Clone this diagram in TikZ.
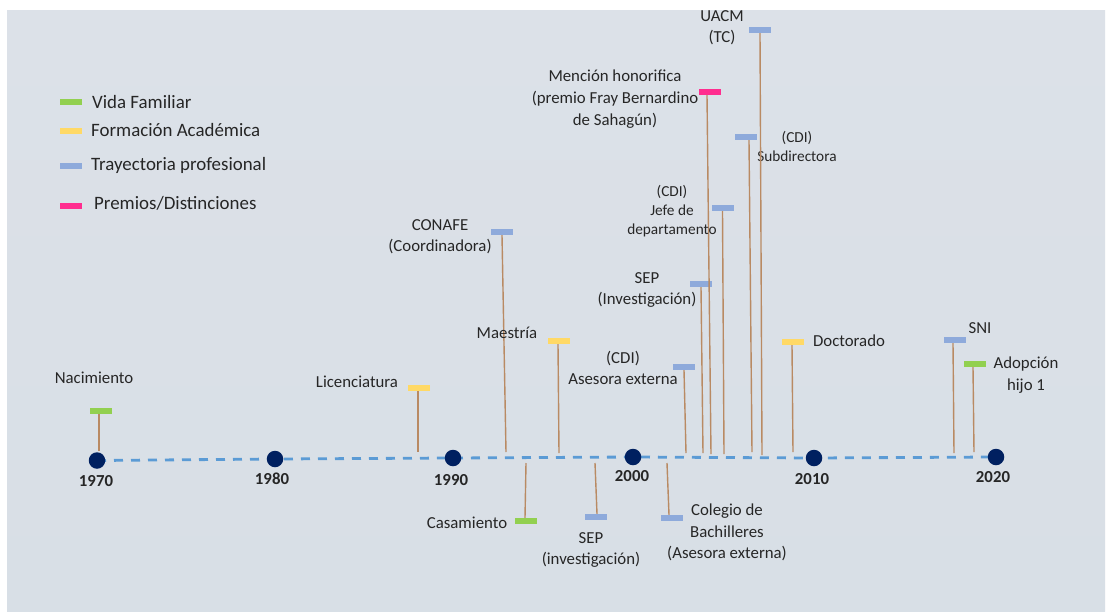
\documentclass[tikz,border=0pt]{standalone}
\usepackage{fontspec}
\setmainfont{Carlito}
\definecolor{bgtop}{HTML}{DCE1E8}
\definecolor{bgmid}{HTML}{E6E9EE}
\definecolor{bgbot}{HTML}{D8DFE6}
\definecolor{famgreen}{HTML}{92D050}
\definecolor{acadyellow}{HTML}{FFD966}
\definecolor{profblue}{HTML}{8EAADB}
\definecolor{prizepink}{HTML}{FF2D8F}
\definecolor{stemc}{HTML}{B98A63}
\definecolor{axisc}{HTML}{5B9BD5}
\definecolor{dotc}{HTML}{002060}
\definecolor{txt}{HTML}{262626}
\tikzset{
  bar/.style={rectangle, minimum width=22pt, minimum height=6pt, inner sep=0pt, draw=none},
  stemline/.style={draw=stemc, line width=1.4pt},
  lbl/.style={text=txt, font=\fontsize{16.8}{21.5}\selectfont, align=center, inner sep=0pt},
  lbls/.style={text=txt, font=\fontsize{15.3}{19}\selectfont, align=center, inner sep=0pt},
  lblm/.style={text=txt, font=\fontsize{16.8}{22}\selectfont, align=center, inner sep=0pt},
  leg/.style={text=txt, font=\fontsize{18.9}{22}\selectfont, anchor=west, inner sep=0pt},
  yr/.style={text=txt, font=\bfseries\fontsize{16.8}{20}\selectfont, inner sep=0pt},
  yeardot/.style={circle, fill=dotc, minimum size=16.5pt, inner sep=0pt, draw=none},
  axisline/.style={draw=axisc, line width=2.8pt, dash pattern=on 9pt off 8pt}
}
\begin{document}
\begin{tikzpicture}[x=1pt, y=-1pt]
\useasboundingbox (0,0) rectangle (1106,611);
\fill[white] (0,0) rectangle (1106,611);
\shade[top color=bgtop, middle color=bgmid, bottom color=bgbot, draw=none] (7,10) rectangle (1105,611);

% legend
\node[bar, fill=famgreen] (lg1) at (70.5,102) {};
\node[leg] (lt1) at (92,102) {Vida Familiar};
\node[bar, fill=acadyellow] (lg2) at (70.5,131) {};
\node[leg] (lt2) at (91,130) {Formación Académica};
\node[bar, fill=profblue] (lg3) at (70.5,166) {};
\node[leg] (lt3) at (91,165) {Trayectoria profesional};
\node[bar, fill=prizepink] (lg4) at (70.5,206) {};
\node[leg] (lt4) at (94,203) {Premios/Distinciones};

% timeline
\coordinate (y1970) at (97,460.5);
\coordinate (y1980) at (275,459);
\coordinate (y1990) at (453,458);
\coordinate (y2000) at (633,457);
\coordinate (y2010) at (814,458);
\coordinate (y2020) at (996,457);
\draw[axisline] (y1970) -- (y1980) -- (y1990) -- (y2000) -- (y2010) -- (y2020);
\node[yeardot] (d1970) at (y1970) {};
\node[yeardot] (d1980) at (y1980) {};
\node[yeardot] (d1990) at (y1990) {};
\node[yeardot] (d2000) at (y2000) {};
\node[yeardot] (d2010) at (y2010) {};
\node[yeardot] (d2020) at (y2020) {};
\node[yr] (l1970) at (96,481) {1970};
\node[yr] (l1980) at (272,479) {1980};
\node[yr] (l1990) at (451,480) {1990};
\node[yr] (l2000) at (632,476) {2000};
\node[yr] (l2010) at (812,479) {2010};
\node[yr] (l2020) at (993,477) {2020};

% stem end points on the timeline
\coordinate (e1) at (99,451);
\coordinate (e2) at (418,452);
\coordinate (e3) at (506,452);
\coordinate (e4) at (559,453);
\coordinate (e5) at (526,463);
\coordinate (e6) at (595,463);
\coordinate (e7) at (686,453);
\coordinate (e8) at (667,463);
\coordinate (e9) at (703,453);
\coordinate (e10) at (711,454);
\coordinate (e11) at (724,454);
\coordinate (e12) at (752,452);
\coordinate (e13) at (762,455);
\coordinate (e14) at (793,452);
\coordinate (e15) at (954,453);
\coordinate (e16) at (974,452);

% events above
\node[bar, fill=famgreen] (nac) at (101,411) {};
\draw[stemline] ([xshift=-2pt]nac.south) -- (e1);
\node[lbl] (tnac) at (94,378) {Nacimiento};

\node[bar, fill=acadyellow] (lic) at (419,388) {};
\draw[stemline] ([xshift=-1pt]lic.south) -- (e2);
\node[lbl] (tlic) at (357,382) {Licenciatura};

\node[bar, fill=profblue] (conafe) at (502,232) {};
\draw[stemline] (conafe.south) -- (e3);
\node[lbl] (tconafe) at (440,236.5) {CONAFE\\(Coordinadora)};

\node[bar, fill=acadyellow] (maes) at (559,341) {};
\draw[stemline] ([xshift=-1pt]maes.south) -- (e4);
\node[lbl] (tmaes) at (507,333) {Maestría};

\node[bar, fill=profblue] (cdiase) at (684,367) {};
\draw[stemline] (cdiase.south) -- (e7);
\node[lbl] (tcdiase) at (623,368) {(CDI)\\Asesora externa};

\node[bar, fill=profblue] (sep2) at (701,284) {};
\draw[stemline] (sep2.south) -- (e9);
\node[lbl] (tsep2) at (647,290) {SEP\\(Investigación)};

\node[bar, fill=prizepink] (mencion) at (710,92) {};
\draw[stemline] ([xshift=-3pt]mencion.south) -- (e10);
\node[lblm] (tmencion) at (615,99.5) {Mención honorifica\\(premio Fray Bernardino\\de Sahagún)};

\node[bar, fill=profblue] (jefe) at (722.5,208) {};
\draw[stemline] (jefe.south) -- (e11);
\node[lbls] (tjefe) at (672,211.5) {(CDI)\\Jefe de\\departamento};

\node[bar, fill=profblue] (subdir) at (745.5,137) {};
\draw[stemline] ([xshift=3.5pt]subdir.south) -- (e12);
\node[lbls] (tsubdir) at (797,146.5) {(CDI)\\Subdirectora};

\node[bar, fill=profblue] (uacm) at (760,30) {};
\draw[stemline] (uacm.south) -- (e13);
\node[lbl] (tuacm) at (722,27.5) {UACM\\(TC)};

\node[bar, fill=acadyellow] (doct) at (793,342) {};
\draw[stemline] ([xshift=-1pt]doct.south) -- (e14);
\node[lbl] (tdoct) at (849,341) {Doctorado};

\node[bar, fill=profblue] (sni) at (955,340) {};
\draw[stemline] ([xshift=-2pt]sni.south) -- (e15);
\node[lbl] (tsni) at (980,328) {SNI};

\node[bar, fill=famgreen] (adop) at (975,364) {};
\draw[stemline] ([xshift=-2pt]adop.south) -- (e16);
\node[lbl] (tadop) at (1026,375) {Adopción\\hijo 1};

% events below
\node[bar, fill=famgreen] (casa) at (526,521) {};
\draw[stemline] (e5) -- ([xshift=-1pt]casa.north);
\node[lbl] (tcasa) at (467,523) {Casamiento};

\node[bar, fill=profblue] (sep1) at (596,517) {};
\draw[stemline] (e6) -- ([xshift=1pt]sep1.north);
\node[lbl] (tsep1) at (591,550) {SEP\\(investigación)};

\node[bar, fill=profblue] (coleg) at (672,518) {};
\draw[stemline] (e8) -- ([xshift=-3pt]coleg.north);
\node[lbl] (tcoleg) at (727,532.5) {Colegio de\\Bachilleres\\(Asesora externa)};
\end{tikzpicture}
\end{document}
